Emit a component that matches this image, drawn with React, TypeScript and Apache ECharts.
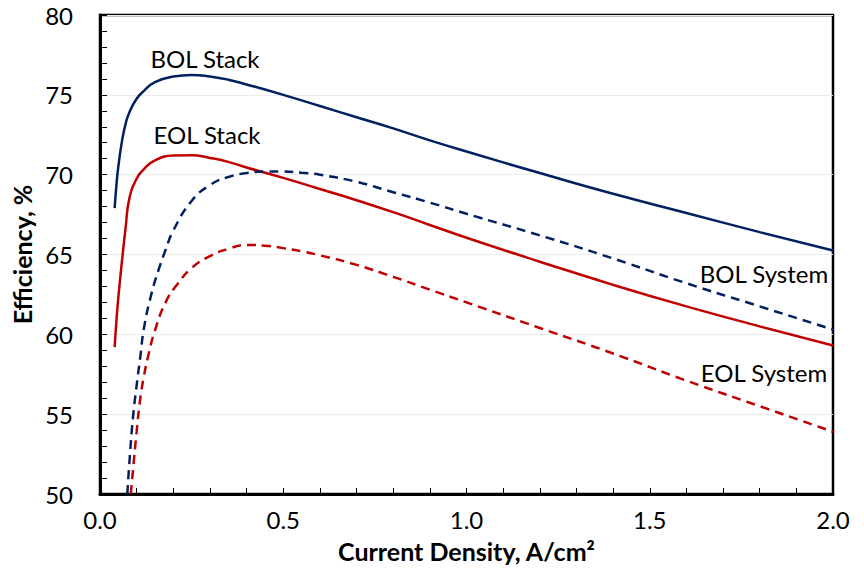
import React, { useEffect, useRef } from "react";
import * as echarts from "echarts";

// Current density (A/cm²) and efficiency (%) values
const bolStackX = [0.04, 0.045, 0.05, 0.06, 0.07, 0.08, 0.1, 0.12, 0.15, 0.2, 0.25, 0.3, 0.35, 0.4, 0.5, 0.6, 0.7, 0.8, 0.9, 1.0, 1.2, 1.4, 1.6, 1.8, 2.0];
const bolStackY = [67.9, 69.4, 70.5, 72.1, 73.2, 73.9, 74.75, 75.25, 75.8, 76.15, 76.25, 76.15, 75.95, 75.65, 75.0, 74.3, 73.6, 72.9, 72.15, 71.45, 70.1, 68.8, 67.6, 66.4, 65.25];

const eolStackX = [0.04, 0.045, 0.05, 0.06, 0.07, 0.08, 0.1, 0.12, 0.15, 0.2, 0.25, 0.3, 0.35, 0.4, 0.5, 0.6, 0.7, 0.8, 0.9, 1.0, 1.2, 1.4, 1.6, 1.8, 2.0];
const eolStackY = [59.2, 60.9, 62.3, 64.6, 66.7, 68.5, 69.75, 70.35, 70.9, 71.2, 71.22, 71.05, 70.8, 70.45, 69.8, 69.1, 68.4, 67.65, 66.85, 66.05, 64.55, 63.1, 61.75, 60.5, 59.3];

const bolSystemX = [0.0745, 0.08, 0.09, 0.1, 0.11, 0.12, 0.14, 0.16, 0.18, 0.2, 0.25, 0.3, 0.35, 0.4, 0.45, 0.5, 0.55, 0.6, 0.7, 0.8, 0.9, 1.0, 1.2, 1.4, 1.6, 1.8, 2.0];
const bolSystemY = [50.0, 51.9, 54.8, 56.8, 58.6, 60.4, 62.5, 64.05, 65.35, 66.5, 68.35, 69.35, 69.85, 70.1, 70.2, 70.2, 70.12, 70.0, 69.55, 68.9, 68.25, 67.55, 66.2, 64.75, 63.2, 61.75, 60.3];

const eolSystemX = [0.084, 0.09, 0.1, 0.11, 0.12, 0.13, 0.15, 0.18, 0.21, 0.25, 0.3, 0.35, 0.4, 0.45, 0.5, 0.55, 0.6, 0.7, 0.8, 0.9, 1.0, 1.2, 1.4, 1.6, 1.8, 2.0];
const eolSystemY = [50.0, 51.5, 53.9, 56.0, 57.4, 58.5, 60.25, 62.05, 63.1, 64.15, 64.9, 65.35, 65.6, 65.55, 65.4, 65.2, 64.95, 64.35, 63.6, 62.8, 62.0, 60.4, 58.8, 57.1, 55.5, 53.9];

const seriesNames = ["BOL Stack", "EOL Stack", "BOL System", "EOL System"];
const xTitle = "Current Density, A/cm²";
const yTitle = "Efficiency, %";

const NAVY = "#002060";
const RED = "#C00000";
const FONT = "Lato";

function pairs(xs: number[], ys: number[]) {
  return xs.map((x, i) => [x, ys[i]]);
}

export default function App() {
  const ref = useRef<HTMLDivElement>(null);
  useEffect(() => {
    if (!ref.current) return;
    const chart = echarts.init(ref.current, undefined, { renderer: "svg" });
    const lineSeries = (name: string, data: number[][], color: string, dashed: boolean) => ({
      name,
      type: "line",
      data,
      showSymbol: false,
      symbol: "none",
      smooth: 0.5,
      lineStyle: { color, width: 2.5, type: dashed ? [9, 6] : "solid" },
      z: 3,
    });
    const label = (text: string, x: number, y: number) => ({
      type: "text",
      x,
      y,
      style: { text, fontFamily: FONT, fontSize: 24, fill: "#000", align: "center", verticalAlign: "middle" },
    });
    chart.setOption({
      animation: false,
      backgroundColor: "#ffffff",
      grid: {
        left: 100,
        right: 31,
        top: 15,
        bottom: 76,
        show: true,
        borderColor: "#000",
        borderWidth: 2.5,
        containLabel: false,
      },
      xAxis: {
        type: "value",
        min: 0,
        max: 2,
        interval: 0.5,
        name: xTitle,
        nameLocation: "middle",
        nameGap: 44,
        nameTextStyle: { fontFamily: FONT, fontWeight: "bold", fontSize: 25, color: "#000" },
        axisLine: { show: true, lineStyle: { color: "#000", width: 3 } },
        axisTick: { show: true, inside: true, length: 6, lineStyle: { color: "#000", width: 1 } },
        minorTick: { show: true, splitNumber: 5, length: 6, lineStyle: { color: "#000", width: 1 } },
        axisLabel: {
          fontFamily: FONT,
          fontSize: 24,
          color: "#000",
          margin: 13,
          formatter: (v: number) => v.toFixed(1),
        },
        splitLine: { show: false },
      },
      yAxis: {
        type: "value",
        min: 50,
        max: 80,
        interval: 5,
        name: yTitle,
        nameLocation: "middle",
        nameGap: 55,
        nameRotate: 90,
        nameTextStyle: { fontFamily: FONT, fontWeight: "bold", fontSize: 25, color: "#000" },
        axisLine: { show: true, lineStyle: { color: "#000", width: 3 } },
        axisTick: { show: true, inside: true, length: 7, lineStyle: { color: "#000", width: 1 } },
        minorTick: { show: true, splitNumber: 5, length: 7, lineStyle: { color: "#000", width: 1 } },
        axisLabel: { fontFamily: FONT, fontSize: 24, color: "#000", margin: 27 },
        splitLine: { show: true, lineStyle: { color: "#ececec", width: 1 } },
      },
      series: [
        lineSeries(seriesNames[0], pairs(bolStackX, bolStackY), NAVY, false),
        lineSeries(seriesNames[1], pairs(eolStackX, eolStackY), RED, false),
        lineSeries(seriesNames[2], pairs(bolSystemX, bolSystemY), NAVY, true),
        lineSeries(seriesNames[3], pairs(eolSystemX, eolSystemY), RED, true),
      ],
      graphic: [
        label(seriesNames[0], 205, 58),
        label(seriesNames[1], 207, 134),
        label(seriesNames[2], 764, 273),
        label(seriesNames[3], 764, 372),
      ],
    });
    return () => chart.dispose();
  }, []);
  return (
    <div
      ref={ref}
      style={{ position: "fixed", left: 0, top: 0, width: 864, height: 570, background: "#fff" }}
    />
  );
}
